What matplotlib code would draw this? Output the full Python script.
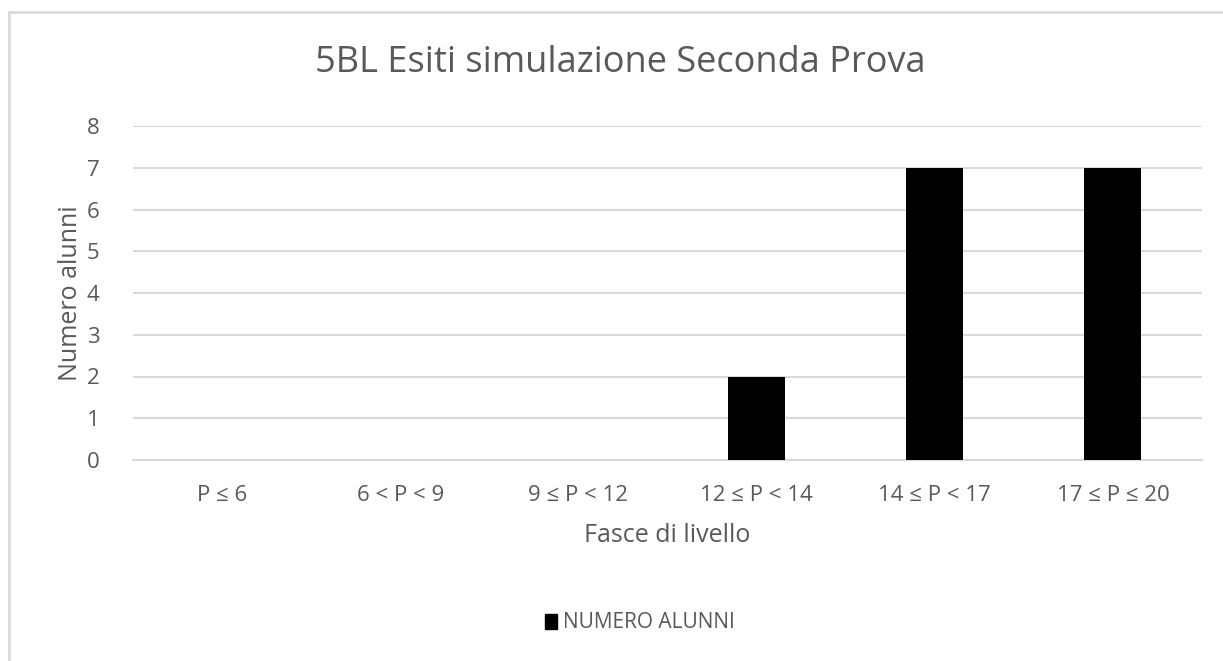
import matplotlib
matplotlib.use("Agg")
import matplotlib.pyplot as plt
from matplotlib.lines import Line2D

categories = ["P ≤ 6", "6 < P < 9", "9 ≤ P < 12", "12 ≤ P < 14", "14 ≤ P < 17", "17 ≤ P ≤ 20"]
values = [0, 0, 0, 2, 7, 7]
yticks = [0, 1, 2, 3, 4, 5, 6, 7, 8]
title = "5BL Esiti simulazione Seconda Prova"
series_name = "NUMERO ALUNNI"

plt.rcParams['font.family'] = ['Open Sans', 'DejaVu Sans']
W, H = 1223, 661
fig = plt.figure(figsize=(W/100, H/100), dpi=100)
ax = fig.add_axes([133/W, 1-460/H, (1202-133)/W, (460-126)/H])

gray = "#595959"
grid = "#d9d9d9"
x = list(range(len(categories)))
ax.bar(x, values, width=0.32, color="black", zorder=3, label=series_name)
ax.set_xlim(-0.5, len(categories)-0.5)
ax.set_ylim(0, 8)
ax.set_yticks(yticks)
ax.set_xticks(x)
ax.set_xticklabels(categories)
ax.yaxis.grid(True, color=grid, linewidth=1.5, zorder=0)
for s in ["top", "right", "left"]:
    ax.spines[s].set_visible(False)
ax.spines["bottom"].set_color(grid)
ax.spines["bottom"].set_linewidth(1.5)
ax.tick_params(axis="both", length=0, labelsize=16, colors=gray)
ax.tick_params(axis="x", pad=18)
ax.tick_params(axis="y", pad=24)
ax.set_xlabel("Fasce di livello", fontsize=18, color=gray, labelpad=12)
ax.set_ylabel("Numero alunni", fontsize=18, color=gray, labelpad=3)

fig.text(620/W, 1-63/H, title, ha="center", va="center", fontsize=26, color=gray)

leg = fig.legend(handles=[plt.Rectangle((0, 0), 1, 1, color="black")], labels=[series_name],
                 loc="center", bbox_to_anchor=(640/W, 1-623/H), frameon=False,
                 fontsize=15, handlelength=0.6, handleheight=0.7, handletextpad=0.3)
for t in leg.get_texts():
    t.set_color(gray)

fig.add_artist(Line2D([9/W, 9/W], [0, 1-12/H], color="#d9d9d9", linewidth=2, transform=fig.transFigure))
fig.add_artist(Line2D([9/W, 1], [1-12/H, 1-12/H], color="#d9d9d9", linewidth=2, transform=fig.transFigure))

fig.savefig("out.png", dpi=100, facecolor="white")
